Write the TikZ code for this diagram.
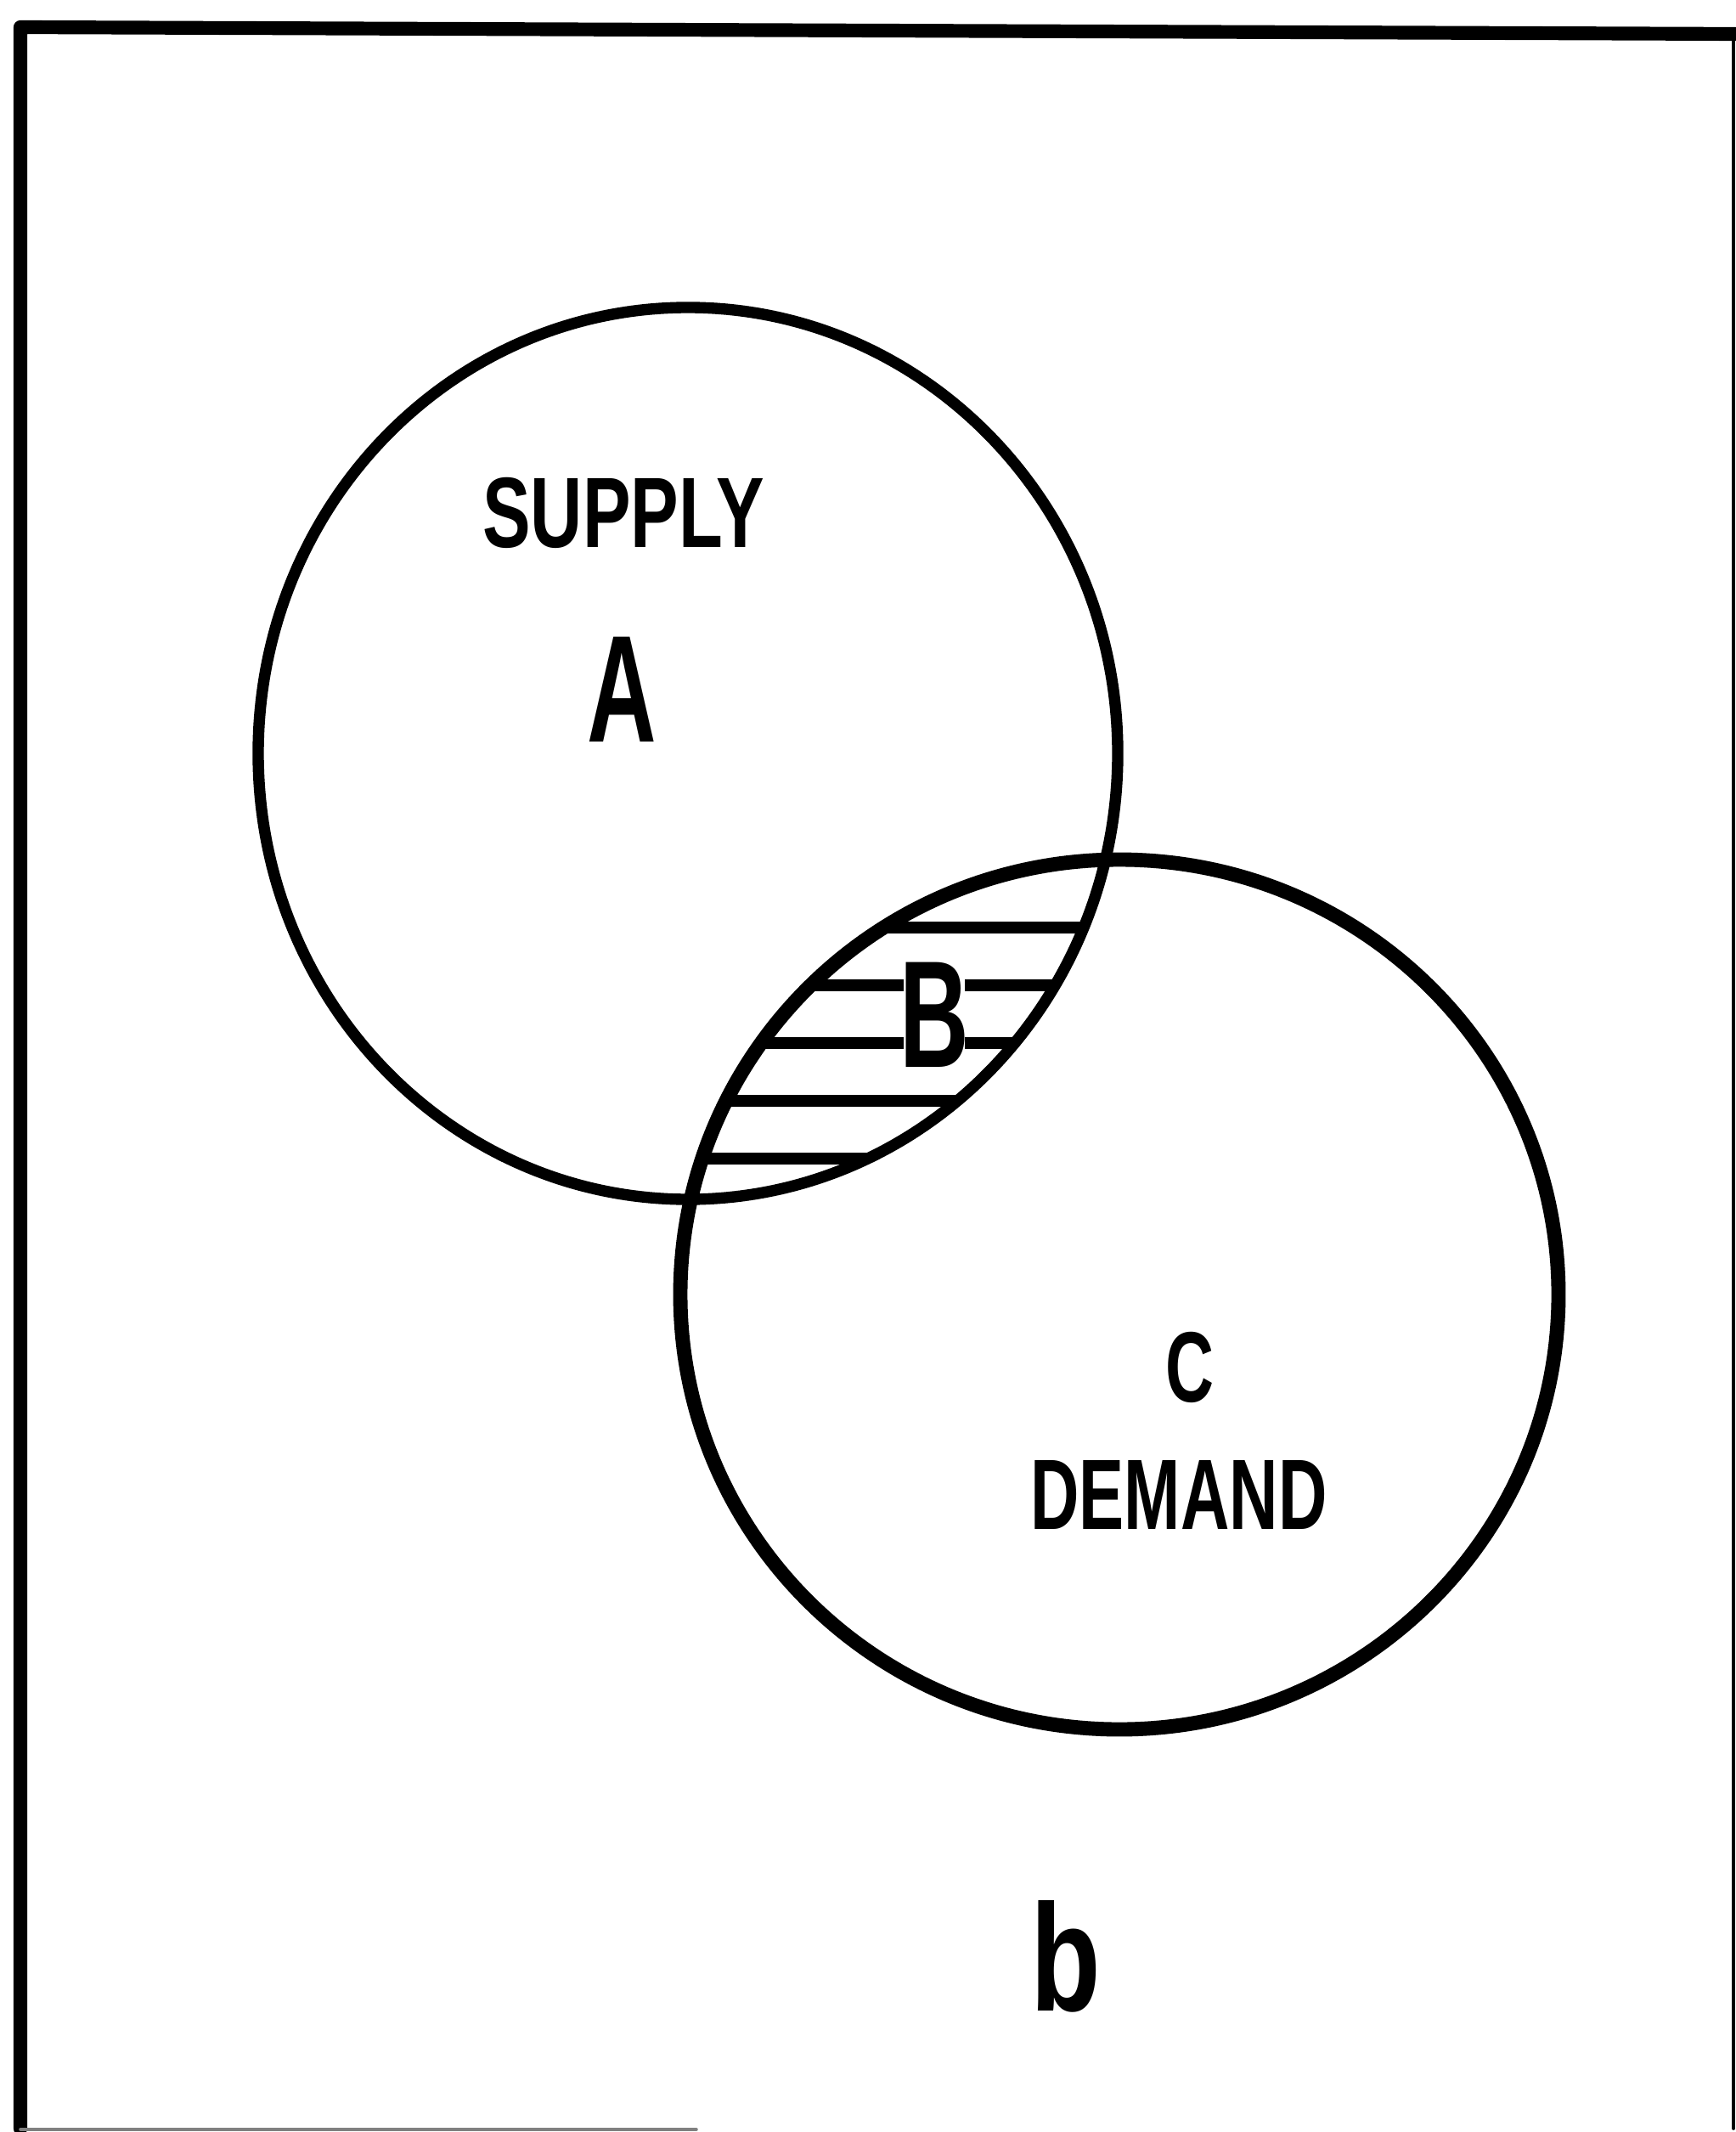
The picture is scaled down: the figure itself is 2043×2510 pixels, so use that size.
\documentclass[tikz,border=0pt]{standalone}
\usepackage{fontspec}
\setmainfont{Liberation Sans}
\begin{document}
\begin{tikzpicture}[x=0.01cm, y=-0.01cm, line join=round, line cap=round,
  nho/.style={font=\bfseries\fontsize{33.5}{40}\selectfont, inner sep=0pt},
  lon/.style={font=\bfseries\fontsize{51}{60}\selectfont, inner sep=0pt}]
\useasboundingbox (0,0) rectangle (2043,2510);
\path
(810,887) coordinate (O1)
(1318,1524) coordinate (O2);
% khung
\draw[line width=4.6pt] (24,2506) -- (24,32) -- (2043,40);
\draw[line width=1pt] (2041,40) -- (2041,2506);
\draw[line width=1pt, gray] (24,2507) -- (820,2507);
% vùng B gạch ngang
\begin{scope}
\clip (O1) ellipse [x radius=506, y radius=525];
\clip (O2) ellipse [x radius=517, y radius=512];
\foreach \y in {1092,1160,...,1364}
\draw[line width=3.8pt] (700,\y) -- (1400,\y);
\end{scope}
\draw[line width=3.8pt] (O1) ellipse [x radius=506, y radius=525];
\draw[line width=4.8pt] (O2) ellipse [x radius=517, y radius=512];
\node[nho] (supply) at (734,604) {\scalebox{0.72}[1]{SUPPLY}};
\node[lon] (A) at (732,812) {\scalebox{0.63}[1]{A}};
\node[lon, fill=white, inner xsep=-1.5pt] (B) at (1100,1195) {\scalebox{0.63}[1]{B}};
\node[nho] (C) at (1401,1610) {\scalebox{0.67}[1]{C}};
\node[nho] (demand) at (1388,1760) {\scalebox{0.675}[1]{DEMAND}};
\node[lon] (b) at (1255,2303) {\scalebox{0.755}[1]{b}};
\end{tikzpicture}
\end{document}
